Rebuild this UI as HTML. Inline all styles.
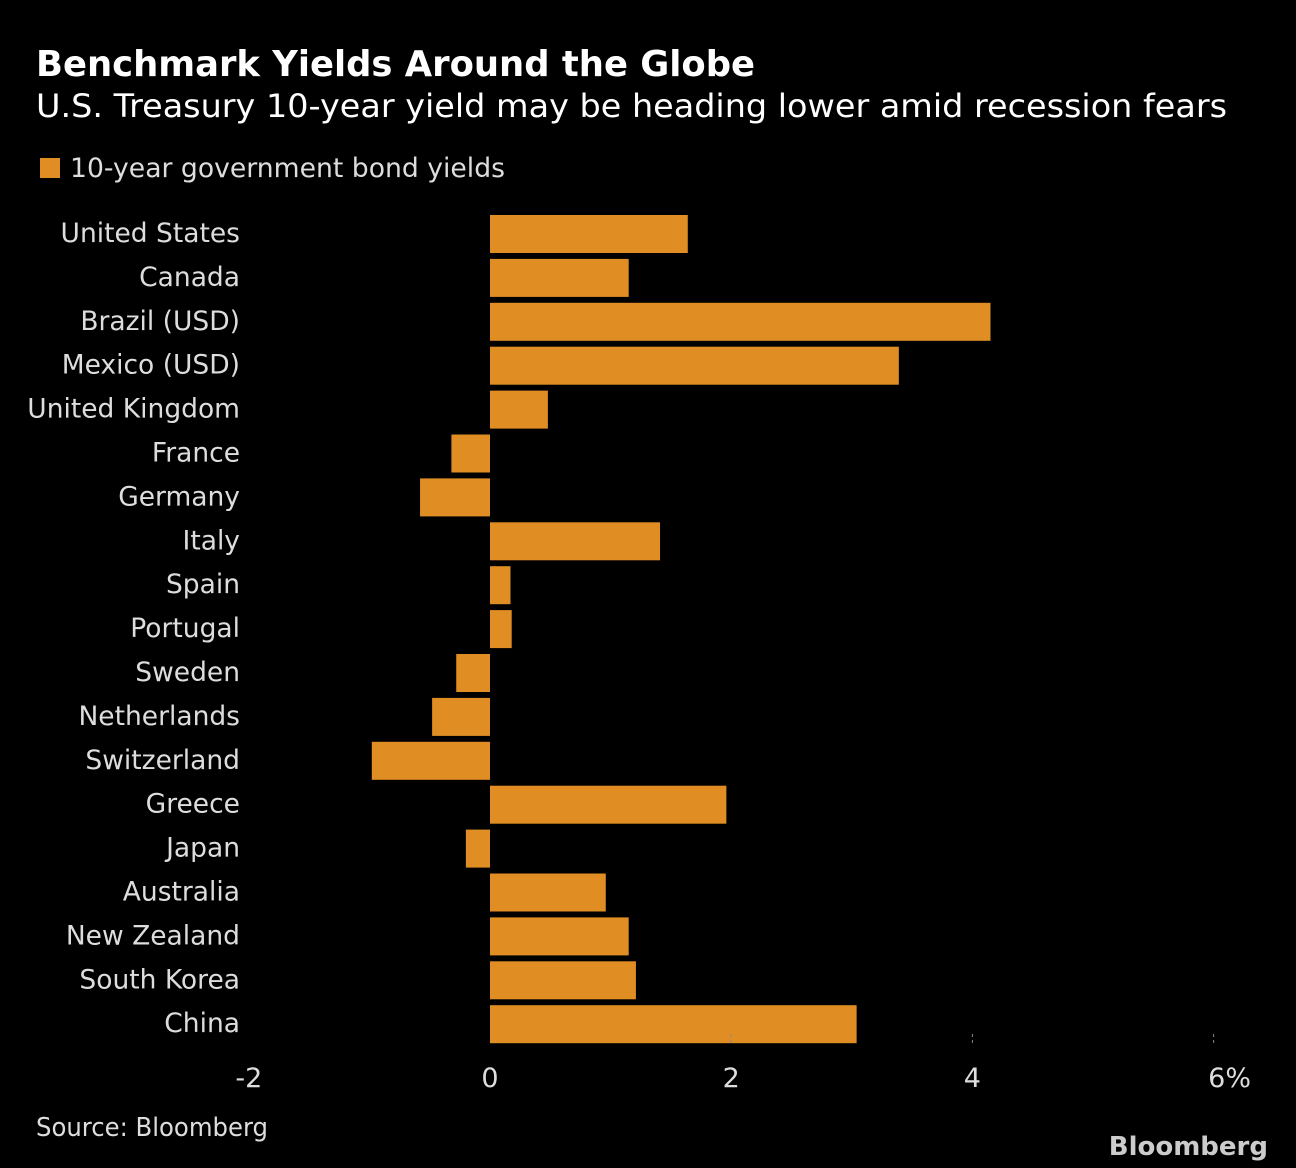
<!DOCTYPE html>
<html><head><meta charset="utf-8"><style>
body{margin:0;background:#000;width:1296px;height:1164px;overflow:hidden;font-family:"DejaVu Sans","Liberation Sans",sans-serif;color:#fff}
</style></head><body>
<svg width="1296" height="1164" xmlns="http://www.w3.org/2000/svg">
<text x="36" y="76" font-size="36" font-weight="bold" fill="#fff" textLength="719" lengthAdjust="spacingAndGlyphs">Benchmark Yields Around the Globe</text>
<text x="36" y="117" font-size="32" fill="#fff" textLength="1191" lengthAdjust="spacingAndGlyphs">U.S. Treasury 10-year yield may be heading lower amid recession fears</text>
<rect x="40" y="158" width="20" height="20" fill="#e08e24"/>
<text x="70" y="177" font-size="27" fill="#ddd" textLength="435" lengthAdjust="spacingAndGlyphs">10-year government bond yields</text>
<g id="bars"></g>
<g id="axis"></g>
<text x="36" y="1136" font-size="26" fill="#ddd" textLength="232" lengthAdjust="spacingAndGlyphs">Source: Bloomberg</text>
<text x="1268" y="1155" font-size="26" font-weight="bold" fill="#ccc" text-anchor="end">Bloomberg</text>
</svg>
<script>
const categories=["United States","Canada","Brazil (USD)","Mexico (USD)","United Kingdom","France","Germany","Italy","Spain","Portugal","Sweden","Netherlands","Switzerland","Greece","Japan","Australia","New Zealand","South Korea","China"];
const values=[1.64,1.15,4.15,3.39,0.48,-0.32,-0.58,1.41,0.17,0.18,-0.28,-0.48,-0.98,1.96,-0.2,0.96,1.15,1.21,3.04];
const ticks=[-2,0,2,4,6];
const tickLabels=["-2","0","2","4","6%"];
const NS="http://www.w3.org/2000/svg";
const x=v=>490+v*120.6;
const y=i=>215+i*43.9;
const bars=document.getElementById('bars'),axis=document.getElementById('axis');
function mk(tag,a,p){const e=document.createElementNS(NS,tag);for(const k in a)e.setAttribute(k,a[k]);p.appendChild(e);return e;}
categories.forEach((c,i)=>{
 const v=values[i];
 const r=mk('rect',{x:Math.min(x(0),x(v)),y:y(i),width:Math.abs(x(v)-x(0)),height:38,fill:'#e08e24'},bars);
 
 
 const t=mk('text',{x:240,y:y(i)+27,'font-size':26.5,fill:'#ddd','text-anchor':'end'},bars);
 t.textContent=c;
 
 
});
ticks.forEach((v,i)=>{
 if(v>0){const l=mk('line',{x1:x(v),x2:x(v),y1:1034,y2:1046,stroke:'#888','stroke-dasharray':'3,3'},axis);
 
 }
 const t=mk('text',{x:x(v)+(v==6?16:0),y:1087,'font-size':27,fill:'#ddd','text-anchor':'middle'},axis);
 t.textContent=tickLabels[i];
 
 
});
</script>
</body></html>
